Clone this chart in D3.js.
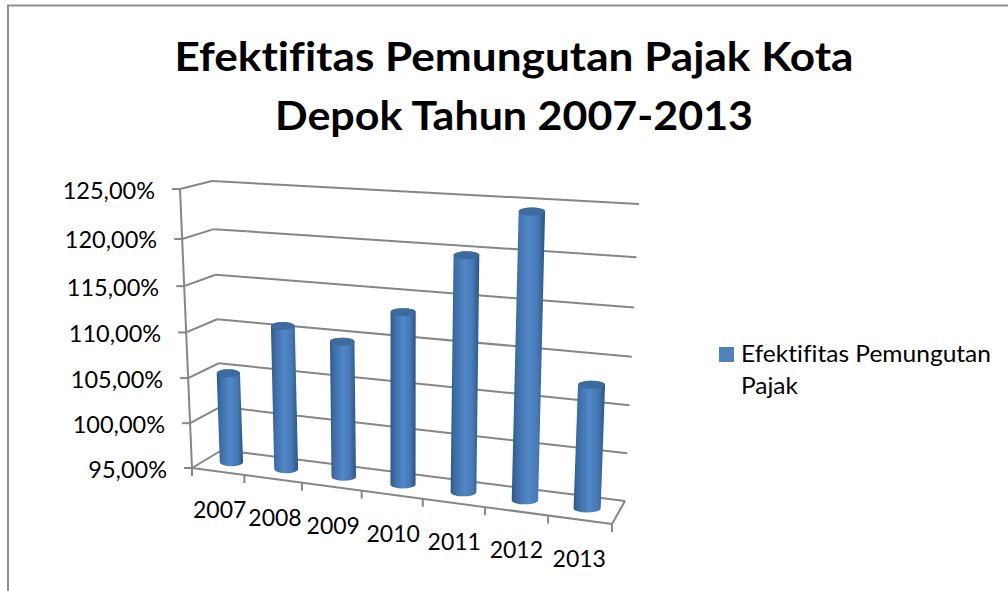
<!DOCTYPE html>
<html lang="en">

<head>
    <meta charset="UTF-8" />
    <title>Efektifitas Pemungutan Pajak Kota Depok</title>
    <script src="https://d3js.org/d3.v7.min.js"></script>
    <style>
        html, body {
            margin: 0;
            padding: 0;
            background: #fff;
        }

        svg {
            display: block;
        }

        text {
            font-family: Lato, Carlito, sans-serif;
            font-variant-ligatures: none;
            fill: #000;
        }
    </style>
</head>

<body>
    <svg id="chart" width="1008" height="591"></svg>

    <script>
        const years = ["2007", "2008", "2009", "2010", "2011", "2012", "2013"];
        const efektifitas = [105.0, 110.8, 109.7, 113.4, 119.7, 124.3, 107.7];
        const yTicks = [95, 100, 105, 110, 115, 120, 125];
        const titleLines = ["Efektifitas Pemungutan Pajak Kota", "Depok Tahun 2007-2013"];
        const legendLines = ["Efektifitas Pemungutan", "Pajak"];

        const svg = d3.select("#chart");
        const gray = "#868686";

        // the box the 3d plot sits in, picture coordinates
        const frontLeft = { top: [180, 189], bottom: [192, 468] };
        const backLeft = { top: [212, 181], bottom: [222, 450] };
        const frontRight = { top: [623, 214], bottom: [612, 524] };
        const backRight = { top: [639, 204], bottom: [625, 501] };

        const lerp = (a, b, t) => [a[0] + (b[0] - a[0]) * t, a[1] + (b[1] - a[1]) * t];
        const mix = (a, b) => ({ top: lerp(a.top, b.top, 0.5), bottom: lerp(a.bottom, b.bottom, 0.5) });

        // perspective makes the steps uneven, pow scales get close enough
        const vPow = d3.scalePow().exponent(0.96).domain([0, 30]).range([0, 1]);
        const vScale = value => vPow(125 - value);
        const uScale = d3.scalePow().exponent(1.07).domain([0, years.length]).range([0, 1]);

        function onEdge(edge, value) {
            return lerp(edge.top, edge.bottom, vScale(value));
        }

        function project(left, right, i, value) {
            const u = uScale(i);
            return lerp(onEdge(left, value), onEdge(right, value), u);
        }

        const midLeft = mix(frontLeft, backLeft);
        const midRight = mix(frontRight, backRight);

        const line = (g, a, b, w = 2) => g.append("line")
            .attr("x1", a[0]).attr("y1", a[1])
            .attr("x2", b[0]).attr("y2", b[1])
            .attr("stroke", gray)
            .attr("stroke-width", w);

        // gradient for the cylinders
        const defs = svg.append("defs");
        const grad = defs.append("linearGradient").attr("id", "barFill");
        [[0, "#2c5788"], [0.14, "#3b6ca6"], [0.5, "#5288c7"], [0.78, "#4478b5"], [1, "#2a5484"]].forEach(s => {
            grad.append("stop").attr("offset", s[0]).attr("stop-color", s[1]);
        });
        defs.append("filter").attr("id", "soft")
            .append("feGaussianBlur").attr("stdDeviation", 0.5);

        // chart frame, only top and left show in the crop
        svg.append("path")
            .attr("d", "M8,591V5.5H1008")
            .attr("fill", "none")
            .attr("stroke", "#8e8e8e")
            .attr("stroke-width", 2);

        // title
        const titleWidths = [679, 478];
        svg.append("g").selectAll("text")
            .data(titleLines)
            .join("text")
            .attr("x", 514)
            .attr("y", (d, i) => 71 + i * 59)
            .attr("text-anchor", "middle")
            .attr("font-size", 41)
            .attr("font-weight", 700)
            .attr("textLength", (d, i) => titleWidths[i])
            .attr("lengthAdjust", "spacingAndGlyphs")
            .text(d => d);

        // walls and floor
        const walls = svg.append("g").attr("filter", "url(#soft)");
        yTicks.forEach(v => {
            line(walls, onEdge(backLeft, v), onEdge(backRight, v));
            line(walls, onEdge(frontLeft, v), onEdge(backLeft, v));
        });
        line(walls, backRight.bottom, frontRight.bottom);
        line(walls, frontLeft.top, frontLeft.bottom);
        line(walls, frontLeft.bottom, frontRight.bottom);

        // axis ticks
        yTicks.forEach(v => {
            const p = onEdge(frontLeft, v);
            line(walls, p, [p[0] - 8, p[1]]);
        });
        d3.range(years.length + 1).forEach(i => {
            const p = lerp(frontLeft.bottom, frontRight.bottom, uScale(i));
            line(walls, p, [p[0], p[1] + 8]);
        });

        // cylinders
        const bars = svg.append("g").attr("filter", "url(#soft)");
        years.forEach((year, i) => {
            const base = project(midLeft, midRight, i + 0.5, 95);
            const top = project(midLeft, midRight, i + 0.5, efektifitas[i]);
            const rx = 11.5 + uScale(i + 0.5) * 2.2;
            const ry = 4;
            bars.append("path")
                .attr("d", `M${top[0] - rx},${top[1]}L${base[0] - rx},${base[1]}`
                    + `A${rx},${ry} 0 0 0 ${base[0] + rx},${base[1]}`
                    + `L${top[0] + rx},${top[1]}`
                    + `A${rx},${ry} 0 0 0 ${top[0] - rx},${top[1]}Z`)
                .attr("fill", "url(#barFill)");
            bars.append("ellipse")
                .attr("cx", top[0]).attr("cy", top[1])
                .attr("rx", rx).attr("ry", ry)
                .attr("fill", "#3d6a9f");
        });

        // y labels
        svg.append("g").selectAll("text")
            .data(yTicks)
            .join("text")
            .attr("x", d => onEdge(frontLeft, d)[0] - 25)
            .attr("y", d => onEdge(frontLeft, d)[1] + 9.5)
            .attr("text-anchor", "end")
            .attr("font-size", 23.5)
            .text(d => d3.format(".2f")(d).replace(".", ",") + "%");

        // category labels
        const catPos = i => lerp(frontLeft.bottom, frontRight.bottom, uScale(i + 0.5));
        svg.append("g").selectAll("text")
            .data(years)
            .join("text")
            .attr("x", (d, i) => catPos(i)[0] + 3 - 4 * uScale(i + 0.5))
            .attr("y", (d, i) => catPos(i)[1] + 47)
            .attr("text-anchor", "middle")
            .attr("font-size", 23)
            .text(d => d);

        // legend
        const legendWidths = [250, 57];
        svg.append("rect")
            .attr("x", 719).attr("y", 347)
            .attr("width", 15).attr("height", 15)
            .attr("fill", "#4f81bd");
        svg.append("g").selectAll("text")
            .data(legendLines)
            .join("text")
            .attr("x", 741)
            .attr("y", (d, i) => 362 + i * 32)
            .attr("font-size", 23)
            .attr("textLength", (d, i) => legendWidths[i])
            .attr("lengthAdjust", "spacingAndGlyphs")
            .text(d => d);
    </script>
</body>

</html>
